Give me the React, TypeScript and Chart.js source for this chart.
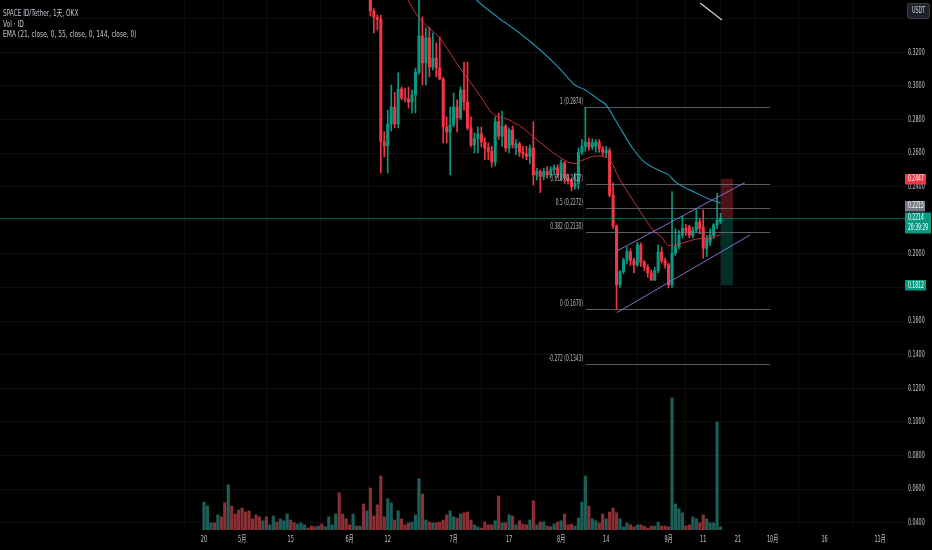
import React, { useEffect, useRef } from "react";
import { Chart, registerables } from "chart.js";
Chart.register(...registerables);

// ---- Daily candles, day 0 = 2023-04-20 (days 0..47 sit above the visible price range) ----
const open = [
  0.478, 0.492, 0.505, 0.508, 0.495, 0.510, 0.492, 0.460, 0.490, 0.468,
  0.455, 0.442, 0.428, 0.420, 0.410, 0.404, 0.398, 0.392, 0.400, 0.390,
  0.394, 0.405, 0.398, 0.406, 0.410, 0.420, 0.412, 0.407, 0.412, 0.416,
  0.419, 0.416, 0.411, 0.408, 0.411, 0.405, 0.407, 0.417, 0.419, 0.426,
  0.398, 0.390, 0.384, 0.381, 0.390, 0.385, 0.387, 0.368, 0.374, 0.3445,
  0.3408, 0.3396, 0.2668, 0.2642, 0.2773, 0.2874, 0.2773, 0.2981, 0.2928, 0.2922,
  0.2904, 0.2946, 0.3082, 0.3297, 0.3136, 0.3285, 0.3112, 0.3166, 0.3106, 0.3041,
  0.2755, 0.2725, 0.2767, 0.2874, 0.2809, 0.2975, 0.2904, 0.2750, 0.2648, 0.2684,
  0.2714, 0.2666, 0.2630, 0.2610, 0.2547, 0.2787, 0.2700, 0.2760, 0.2630, 0.2737,
  0.2630, 0.2655, 0.2605, 0.2595, 0.2580, 0.2630, 0.2470, 0.2490, 0.2460, 0.2490,
  0.2470, 0.2500, 0.2512, 0.2475, 0.2540, 0.2450, 0.2435, 0.2400, 0.2420, 0.2605,
  0.2640, 0.2665, 0.2635, 0.2640, 0.2665, 0.2625, 0.2600, 0.2615, 0.2350, 0.2165,
  0.1815, 0.1894, 0.1963, 0.2013, 0.1960, 0.1934, 0.2053, 0.1951, 0.1922, 0.1886,
  0.1844, 0.1900, 0.2010, 0.1960, 0.1935, 0.1815, 0.2003, 0.2043, 0.2112, 0.2152,
  0.2160, 0.2110, 0.2140, 0.2190, 0.2160, 0.2033, 0.2070, 0.2110, 0.2172, 0.2190,
];
const high = [
  0.498, 0.512, 0.515, 0.512, 0.515, 0.514, 0.496, 0.505, 0.494, 0.472,
  0.460, 0.448, 0.434, 0.426, 0.415, 0.410, 0.402, 0.405, 0.404, 0.398,
  0.410, 0.408, 0.410, 0.414, 0.426, 0.424, 0.416, 0.416, 0.420, 0.422,
  0.421, 0.418, 0.414, 0.414, 0.413, 0.410, 0.422, 0.423, 0.432, 0.430,
  0.404, 0.394, 0.388, 0.396, 0.392, 0.390, 0.390, 0.382, 0.378, 0.3460,
  0.3422, 0.3420, 0.2727, 0.2856, 0.3005, 0.2960, 0.3077, 0.2993, 0.2987, 0.2993,
  0.2975, 0.3106, 0.3540, 0.3410, 0.3345, 0.3350, 0.3315, 0.3255, 0.3291, 0.3050,
  0.2815, 0.2874, 0.2957, 0.2916, 0.2993, 0.3142, 0.3142, 0.2815, 0.2720, 0.2755,
  0.2755, 0.2690, 0.2660, 0.2640, 0.2815, 0.2838, 0.2850, 0.2770, 0.2750, 0.2760,
  0.2680, 0.2665, 0.2640, 0.2640, 0.2648, 0.2787, 0.2510, 0.2500, 0.2510, 0.2520,
  0.2520, 0.2530, 0.2530, 0.2560, 0.2550, 0.2475, 0.2450, 0.2481, 0.2630, 0.2680,
  0.2874, 0.2690, 0.2685, 0.2680, 0.2680, 0.2640, 0.2640, 0.2630, 0.2422, 0.2172,
  0.1900, 0.1975, 0.2040, 0.2030, 0.1975, 0.2068, 0.2065, 0.1960, 0.1935, 0.1905,
  0.1920, 0.2053, 0.2040, 0.1975, 0.1945, 0.2370, 0.2149, 0.2140, 0.2223, 0.2175,
  0.2170, 0.2160, 0.2271, 0.2211, 0.2261, 0.2110, 0.2150, 0.2180, 0.2360, 0.2241,
];
const low = [
  0.470, 0.484, 0.496, 0.490, 0.490, 0.488, 0.452, 0.455, 0.462, 0.448,
  0.436, 0.420, 0.415, 0.402, 0.400, 0.392, 0.386, 0.388, 0.386, 0.386,
  0.390, 0.395, 0.394, 0.400, 0.406, 0.408, 0.404, 0.403, 0.408, 0.412,
  0.413, 0.408, 0.405, 0.405, 0.402, 0.402, 0.404, 0.413, 0.415, 0.392,
  0.386, 0.380, 0.378, 0.378, 0.382, 0.380, 0.362, 0.358, 0.3415, 0.3315,
  0.3332, 0.2481, 0.2578, 0.2481, 0.2731, 0.2750, 0.2750, 0.2916, 0.2904, 0.2868,
  0.2839, 0.2839, 0.3070, 0.3005, 0.3005, 0.3053, 0.3094, 0.3053, 0.3035, 0.2660,
  0.2660, 0.2470, 0.2755, 0.2725, 0.2797, 0.2856, 0.2737, 0.2636, 0.2600, 0.2600,
  0.2636, 0.2560, 0.2560, 0.2517, 0.2523, 0.2680, 0.2640, 0.2610, 0.2600, 0.2630,
  0.2590, 0.2580, 0.2570, 0.2560, 0.2535, 0.2410, 0.2440, 0.2365, 0.2440, 0.2450,
  0.2455, 0.2470, 0.2455, 0.2440, 0.2420, 0.2415, 0.2375, 0.2385, 0.2385, 0.2590,
  0.2610, 0.2615, 0.2620, 0.2605, 0.2605, 0.2585, 0.2575, 0.2338, 0.2150, 0.1670,
  0.1800, 0.1880, 0.1940, 0.1930, 0.1886, 0.1925, 0.1925, 0.1900, 0.1860, 0.1840,
  0.1840, 0.1886, 0.1945, 0.1915, 0.1797, 0.1800, 0.1990, 0.2030, 0.2095, 0.2110,
  0.2095, 0.2095, 0.2125, 0.2120, 0.1974, 0.1983, 0.2050, 0.2090, 0.2150, 0.2180,
];
const close = [
  0.492, 0.505, 0.508, 0.495, 0.510, 0.492, 0.460, 0.490, 0.468, 0.455,
  0.442, 0.428, 0.420, 0.410, 0.404, 0.398, 0.392, 0.400, 0.390, 0.394,
  0.405, 0.398, 0.406, 0.410, 0.420, 0.412, 0.407, 0.412, 0.416, 0.419,
  0.416, 0.411, 0.408, 0.411, 0.405, 0.407, 0.417, 0.419, 0.426, 0.398,
  0.390, 0.384, 0.381, 0.390, 0.385, 0.387, 0.368, 0.374, 0.3445, 0.3408,
  0.3396, 0.2668, 0.2642, 0.2773, 0.2874, 0.2773, 0.2981, 0.2928, 0.2922, 0.2904,
  0.2946, 0.3082, 0.3297, 0.3136, 0.3285, 0.3112, 0.3166, 0.3106, 0.3041, 0.2755,
  0.2725, 0.2767, 0.2874, 0.2809, 0.2975, 0.2904, 0.2750, 0.2648, 0.2684, 0.2714,
  0.2666, 0.2630, 0.2610, 0.2547, 0.2787, 0.2700, 0.2760, 0.2630, 0.2737, 0.2648,
  0.2655, 0.2605, 0.2595, 0.2580, 0.2630, 0.2470, 0.2490, 0.2460, 0.2490, 0.2470,
  0.2500, 0.2512, 0.2475, 0.2540, 0.2450, 0.2435, 0.2400, 0.2420, 0.2605, 0.2640,
  0.2665, 0.2635, 0.2660, 0.2665, 0.2625, 0.2605, 0.2615, 0.2350, 0.2165, 0.1815,
  0.1894, 0.1963, 0.2013, 0.1960, 0.1934, 0.2053, 0.1951, 0.1922, 0.1886, 0.1844,
  0.1900, 0.2010, 0.1960, 0.1935, 0.1815, 0.2003, 0.2043, 0.2112, 0.2152, 0.2135,
  0.2110, 0.2140, 0.2190, 0.2150, 0.2033, 0.2090, 0.2110, 0.2172, 0.2200, 0.2214,
];
// volume in millions of ID
const volume = [
  7.0, 6.0, 1.8, 1.8, 3.8, 3.3, 6.8, 11.3, 6.0, 4.0,
  5.0, 5.5, 4.5, 4.8, 2.8, 3.8, 3.3, 2.3, 3.3, 1.3,
  3.5, 2.0, 2.8, 2.3, 4.0, 2.5, 1.8, 1.5, 1.8, 1.3,
  0.5, 1.0, 0.8, 1.0, 1.5, 0.8, 3.3, 1.3, 4.0, 9.3,
  4.0, 2.8, 1.3, 4.0, 1.0, 1.0, 6.5, 4.8, 10.5, 3.5,
  6.3, 13.5, 3.3, 7.8, 6.8, 2.5, 4.8, 2.8, 1.3, 1.8,
  2.0, 3.8, 12.8, 9.0, 2.5, 2.0, 1.8, 1.8, 2.0, 2.5,
  3.8, 4.8, 3.3, 3.0, 4.0, 4.3, 4.5, 2.5, 1.3, 0.8,
  0.5, 2.0, 1.3, 1.3, 2.3, 8.5, 1.8, 1.8, 3.8, 3.5,
  1.3, 2.3, 1.5, 1.3, 2.5, 7.3, 1.3, 2.0, 2.0, 1.0,
  0.8, 1.5, 2.0, 2.3, 4.0, 1.3, 1.5, 1.0, 3.0, 7.0,
  13.5, 6.0, 2.8, 2.3, 1.8, 4.0, 2.8, 4.5, 5.5, 4.3,
  2.8, 0.8, 1.8, 1.3, 0.8, 1.3, 1.3, 1.0, 0.5, 1.0,
  1.0, 2.0, 1.0, 1.0, 0.8, 33.0, 6.5, 5.3, 4.3, 1.0,
  1.3, 3.3, 2.8, 1.8, 3.8, 2.8, 1.8, 1.8, 27.0, 0.8,
];

// ---- EMA lines (day, value) ----
const ema21Days = [58, 62, 64, 68, 71, 74, 76, 80, 83, 88, 92, 95, 99, 103, 107, 109, 113, 116, 118, 119, 122, 125, 128, 130, 132, 134, 136, 139, 142, 146, 149];
const ema21Values = [0.354, 0.3404, 0.3362, 0.3285, 0.3196, 0.31, 0.3045, 0.293, 0.284, 0.2797, 0.2749, 0.2696, 0.263, 0.257, 0.2537, 0.2556, 0.2582, 0.2576, 0.253, 0.248, 0.2375, 0.2279, 0.2184, 0.213, 0.21, 0.205, 0.2052, 0.207, 0.2088, 0.2095, 0.2115];
const ema55Days = [77, 82, 85, 91, 97, 103, 107, 110, 114, 116, 119, 124, 127, 131, 134, 136, 139, 142, 145, 148, 149];
const ema55Values = [0.354, 0.3451, 0.3404, 0.3315, 0.3213, 0.3094, 0.3005, 0.2975, 0.2916, 0.2886, 0.2785, 0.2618, 0.2547, 0.2499, 0.247, 0.2428, 0.2392, 0.2362, 0.2332, 0.2309, 0.2303];

// ---- Axes ----
const xTickDays = [0, 11, 25, 42, 53, 72, 88, 103, 116, 134, 144, 154, 164, 179, 195];
const xTickLabels = ["20", "5月", "15", "6月", "12", "7月", "17", "8月", "14", "9月", "11", "21", "10月", "16", "11月"];
const priceGrid = [0.04, 0.06, 0.08, 0.1, 0.12, 0.14, 0.16, 0.18, 0.2, 0.22, 0.24, 0.26, 0.28, 0.3, 0.32, 0.34];
const priceTickLabels = [0.32, 0.3, 0.28, 0.26, 0.24, 0.2, 0.16, 0.14, 0.12, 0.1, 0.08, 0.06, 0.04];

// ---- Drawings ----
const fibRatios = ["1", "0.618", "0.5", "0.382", "0", "-0.272"];
const fibPrices = [0.2874, 0.2417, 0.2272, 0.213, 0.167, 0.1343];
const fibDays = [110.2, 163.3];
const channelUpperDays = [119.1, 156.0];
const channelUpperPrices = [0.2017, 0.2424];
const channelLowerDays = [119.1, 157.5];
const channelLowerPrices = [0.165, 0.2112];
const positionDays = [149.1, 152.6];
const stopPrice = 0.2447;
const entryPrice = 0.2215;
const targetPrice = 0.1812;
const lastPrice = 0.2214;
const countdown = "20:39:29";
const markerDays = [143.1, 149.4];
const markerPrices = [0.3493, 0.3392];

const UP = "#089981";
const DOWN = "#f23645";
const FONT = '"DejaVu Sans", "Noto Sans CJK SC", sans-serif';

function sText(ctx: CanvasRenderingContext2D, text: string, x: number, y: number, scaleX: number, align: CanvasTextAlign) {
  ctx.save();
  ctx.translate(x, y);
  ctx.scale(scaleX, 1);
  ctx.textAlign = align;
  ctx.fillText(text, 0, 0);
  ctx.restore();
}

const overlay = {
  id: "overlay",
  beforeDraw(chart: any) {
    const { ctx, width, height } = chart;
    ctx.save();
    ctx.fillStyle = "#000000";
    ctx.fillRect(0, 0, width, height);
    ctx.restore();
  },
  afterDatasetsDraw(chart: any) {
    const { ctx, chartArea } = chart;
    const xs = chart.scales.x;
    const ys = chart.scales.y;
    const px = (d: number) => xs.getPixelForValue(d);
    const py = (p: number) => ys.getPixelForValue(p);
    ctx.save();
    ctx.beginPath();
    ctx.rect(chartArea.left, chartArea.top, chartArea.right - chartArea.left, chartArea.bottom - chartArea.top);
    ctx.clip();

    // position tool
    const bx0 = px(positionDays[0]);
    const bx1 = px(positionDays[1]);
    ctx.fillStyle = "rgba(242,54,69,0.32)";
    ctx.fillRect(bx0, py(stopPrice), bx1 - bx0, py(entryPrice) - py(stopPrice));
    ctx.fillStyle = "rgba(8,153,129,0.3)";
    ctx.fillRect(bx0, py(entryPrice), bx1 - bx0, py(targetPrice) - py(entryPrice));

    // last price line
    ctx.strokeStyle = "rgba(8,153,129,0.6)";
    ctx.lineWidth = 1;
    ctx.beginPath();
    const ly = Math.round(py(lastPrice)) + 0.5;
    ctx.moveTo(chartArea.left, ly);
    ctx.lineTo(chartArea.right, ly);
    ctx.stroke();

    // fib retracement
    const fx0 = px(fibDays[0]);
    const fx1 = px(fibDays[1]);
    ctx.strokeStyle = "rgba(120,123,134,0.75)";
    ctx.font = "8px " + FONT;
    ctx.textBaseline = "middle";
    fibPrices.forEach((p, i) => {
      const y = Math.round(py(p)) + 0.5;
      ctx.beginPath();
      ctx.moveTo(fx0, y);
      ctx.lineTo(fx1, y);
      ctx.stroke();
      ctx.fillStyle = "#b8bbc4";
      sText(ctx, `${fibRatios[i]} (${p.toFixed(4)})`, fx0 - 3, y - 6, 0.55, "right");
    });

    // parallel channel
    ctx.strokeStyle = "#8a6cc4";
    ctx.lineWidth = 1;
    ctx.beginPath();
    ctx.moveTo(px(channelUpperDays[0]), py(channelUpperPrices[0]));
    ctx.lineTo(px(channelUpperDays[1]), py(channelUpperPrices[1]));
    ctx.moveTo(px(channelLowerDays[0]), py(channelLowerPrices[0]));
    ctx.lineTo(px(channelLowerDays[1]), py(channelLowerPrices[1]));
    ctx.stroke();

    // marker line top right
    ctx.strokeStyle = "#d1d4dc";
    ctx.lineWidth = 1.2;
    ctx.beginPath();
    ctx.moveTo(px(markerDays[0]), py(markerPrices[0]));
    ctx.lineTo(px(markerDays[1]), py(markerPrices[1]));
    ctx.stroke();
    ctx.restore();
  },
  afterDraw(chart: any) {
    const { ctx, chartArea } = chart;
    const xs = chart.scales.x;
    const ys = chart.scales.y;
    ctx.save();
    ctx.textBaseline = "middle";
    // price ticks
    ctx.font = "9px " + FONT;
    ctx.fillStyle = "#c3c6ce";
    priceTickLabels.forEach((p) => {
      sText(ctx, p.toFixed(4), chartArea.right + 3, ys.getPixelForValue(p), 0.53, "left");
    });
    // date ticks
    xTickDays.forEach((d, i) => {
      sText(ctx, xTickLabels[i], xs.getPixelForValue(d), chartArea.bottom + 10, 0.55, "center");
    });

    const box = (text: string, price: number, color: string, w: number) => {
      const y = ys.getPixelForValue(price);
      ctx.fillStyle = color;
      ctx.fillRect(chartArea.right, Math.round(y) - 5, w, 10.5);
      ctx.fillStyle = "#ffffff";
      sText(ctx, text, chartArea.right + 3, y, 0.53, "left");
    };
    ctx.font = "8.5px " + FONT;
    box(stopPrice.toFixed(4), stopPrice, DOWN, 21);
    box(targetPrice.toFixed(4), targetPrice, UP, 21);
    // entry (gray) is pushed up above the live price label
    const ey = ys.getPixelForValue(entryPrice) - 12;
    ctx.fillStyle = "#787b86";
    ctx.fillRect(chartArea.right, Math.round(ey) - 5, 20, 10.5);
    ctx.fillStyle = "#ffffff";
    sText(ctx, entryPrice.toFixed(4), chartArea.right + 3, ey, 0.53, "left");
    // live price with countdown
    const ly = ys.getPixelForValue(lastPrice);
    ctx.fillStyle = UP;
    ctx.fillRect(chartArea.right, Math.round(ly) - 5.5, 26, 21);
    ctx.fillStyle = "#ffffff";
    sText(ctx, lastPrice.toFixed(4), chartArea.right + 3, ly, 0.53, "left");
    sText(ctx, countdown, chartArea.right + 3, ly + 10, 0.53, "left");

    // currency box
    ctx.fillStyle = "#1e222d";
    ctx.strokeStyle = "#3a3e4a";
    ctx.lineWidth = 1;
    ctx.beginPath();
    ctx.roundRect(907.5, 3.5, 22, 15, 2);
    ctx.fill();
    ctx.stroke();
    ctx.fillStyle = "#d1d4dc";
    ctx.font = "8px " + FONT;
    sText(ctx, "USDT", 918.5, 11, 0.6, "center");

    // legend
    ctx.fillStyle = "#c3c6ce";
    ctx.font = "8.5px " + FONT;
    sText(ctx, "SPACE ID/Tether, 1天, OKX", 3, 14, 0.68, "left");
    sText(ctx, "Vol · ID", 3, 24.5, 0.7, "left");
    sText(ctx, "EMA (21, close, 0, 55, close, 0, 144, close, 0)", 3, 35, 0.7, "left");
    ctx.restore();
  },
};

export default function App() {
  const ref = useRef<HTMLCanvasElement | null>(null);
  useEffect(() => {
    document.body.style.margin = "0";
    document.body.style.background = "#000";
    const days = open.map((_, i) => i);
    const dirColor = days.map((i) => (close[i] >= open[i] ? UP : DOWN));
    const volColor = days.map((i) => (close[i] >= open[i] ? "#1d5f58" : "#8a3034"));
    const chart = new Chart(ref.current as HTMLCanvasElement, {
      type: "bar",
      data: {
        datasets: [
          {
            type: "line",
            data: ema21Days.map((d, i) => ({ x: d, y: ema21Values[i] })),
            borderColor: "rgba(214,52,62,0.9)",
            borderWidth: 1,
            pointRadius: 0,
            cubicInterpolationMode: "monotone",
            yAxisID: "y",
            order: 1,
          } as any,
          {
            type: "line",
            data: ema55Days.map((d, i) => ({ x: d, y: ema55Values[i] })),
            borderColor: "#1f8ea8",
            borderWidth: 1.2,
            pointRadius: 0,
            cubicInterpolationMode: "monotone",
            yAxisID: "y",
            order: 2,
          } as any,
          {
            data: days.map((i) => ({ x: i, y: [Math.min(open[i], close[i]), Math.max(open[i], close[i])] })),
            backgroundColor: dirColor,
            barThickness: 2.4,
            grouped: false,
            yAxisID: "y",
            order: 3,
          } as any,
          {
            data: days.map((i) => ({ x: i, y: [low[i], high[i]] })),
            backgroundColor: dirColor,
            barThickness: 1,
            grouped: false,
            yAxisID: "y",
            order: 4,
          } as any,
          {
            data: days.map((i) => ({ x: i, y: volume[i] })),
            backgroundColor: volColor,
            barThickness: 2.5,
            grouped: false,
            yAxisID: "yv",
            order: 5,
          } as any,
        ],
      },
      options: {
        animation: false,
        responsive: false,
        devicePixelRatio: 1,
        events: [],
        layout: { padding: 0 },
        plugins: { legend: { display: false }, tooltip: { enabled: false } },
        scales: {
          x: {
            type: "linear",
            position: "bottom",
            min: -58.84,
            max: 202.2,
            offset: false,
            grid: { color: "rgba(255,255,255,0.05)", drawTicks: false },
            border: { display: false },
            ticks: { display: false },
            afterBuildTicks: (s: any) => {
              s.ticks = xTickDays.map((v) => ({ value: v }));
            },
            afterFit: (s: any) => {
              s.height = 20;
            },
          },
          y: {
            type: "linear",
            position: "right",
            min: 0.0356,
            max: 0.3511,
            grid: { color: "rgba(255,255,255,0.05)", drawTicks: false },
            border: { display: false },
            ticks: { display: false },
            afterBuildTicks: (s: any) => {
              s.ticks = priceGrid.map((v) => ({ value: v }));
            },
            afterFit: (s: any) => {
              s.width = 27;
            },
          },
          yv: { type: "linear", display: false, min: 0, max: 132.5 },
        },
      } as any,
      plugins: [overlay],
    });
    return () => chart.destroy();
  }, []);
  return (
    <div style={{ position: "fixed", left: 0, top: 0, width: 932, height: 550, background: "#000" }}>
      <canvas ref={ref} width={932} height={550} style={{ width: 932, height: 550, display: "block" }} />
    </div>
  );
}
